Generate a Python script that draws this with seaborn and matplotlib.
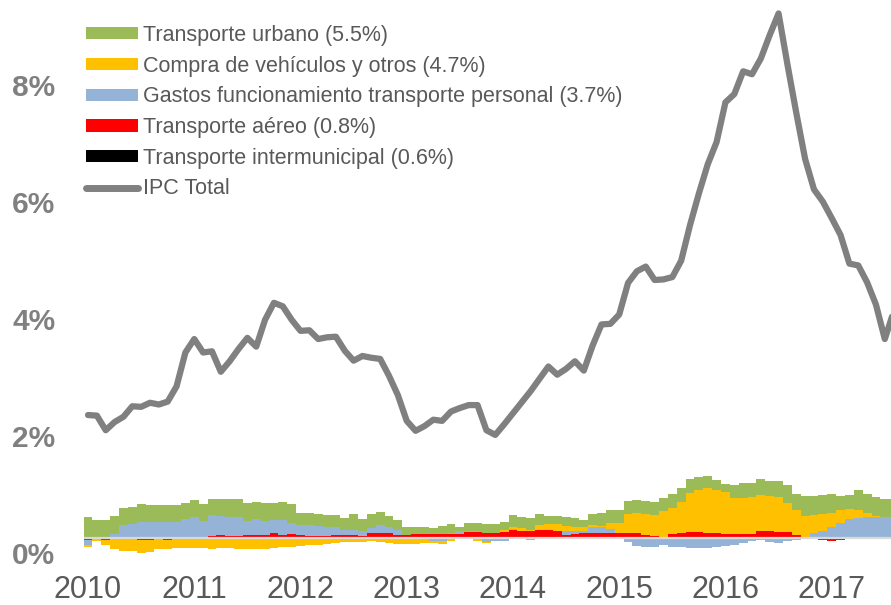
import numpy as np
import pandas as pd
import matplotlib
matplotlib.use("Agg")
import matplotlib.pyplot as plt
import matplotlib.transforms as mtransforms
from matplotlib.patches import Patch
from matplotlib.lines import Line2D
import seaborn as sns

# Monthly data, Jan 2010 - Aug 2017 (contributions in percentage points)
years = ["2010", "2011", "2012", "2013", "2014", "2015", "2016", "2017"]

ipc_total = [2.10, 2.09, 1.84, 1.98, 2.07, 2.25, 2.24, 2.31, 2.28, 2.33, 2.59, 3.17,
             3.40, 3.17, 3.19, 2.84, 3.02, 3.23, 3.42, 3.27, 3.73, 4.02, 3.96, 3.73,
             3.54, 3.55, 3.40, 3.43, 3.44, 3.20, 3.03, 3.11, 3.08, 3.06, 2.77, 2.44,
             2.00, 1.83, 1.91, 2.02, 2.00, 2.16, 2.22, 2.27, 2.27, 1.84, 1.76, 1.94,
             2.13, 2.32, 2.51, 2.72, 2.93, 2.79, 2.89, 3.02, 2.86, 3.29, 3.65, 3.66,
             3.82, 4.36, 4.56, 4.64, 4.41, 4.42, 4.46, 4.74, 5.35, 5.89, 6.39, 6.77,
             7.45, 7.59, 7.98, 7.93, 8.20, 8.60, 8.97, 8.10, 7.27, 6.48, 5.96, 5.75,
             5.47, 5.18, 4.69, 4.66, 4.37, 3.99, 3.40, 3.87]

transporte_intermunicipal = [0.0] * 89 + [0.02, 0.02, 0.02]

transporte_aereo = [-0.03, 0.00, -0.03, -0.01, 0.00, 0.00, -0.03, -0.03, -0.01, -0.03,
                    0.00, -0.02, 0.00, 0.00, 0.03, 0.05, 0.03, 0.03, 0.05, 0.05,
                    0.05, 0.09, 0.05, 0.07, 0.05, 0.03, 0.03, 0.03, 0.05, 0.05,
                    0.05, 0.03, 0.08, 0.08, 0.09, 0.05, 0.05, 0.07, 0.07, 0.06,
                    0.06, 0.07, 0.07, 0.10, 0.10, 0.09, 0.09, 0.10, 0.13, 0.12,
                    0.11, 0.14, 0.13, 0.11, 0.05, 0.06, 0.08, 0.09, 0.08, 0.08,
                    0.09, 0.09, 0.09, 0.05, 0.03, 0.02, 0.07, 0.09, 0.10, 0.10,
                    0.09, 0.09, 0.07, 0.06, 0.06, 0.07, 0.11, 0.11, 0.10, 0.10,
                    0.05, 0.02, 0.00, -0.04, -0.05, -0.04, -0.02, -0.02, -0.01, 0.00,
                    0.00, 0.00]

gastos_funcionamiento = [-0.09, 0.00, 0.00, 0.07, 0.22, 0.23, 0.27, 0.27, 0.27, 0.27,
                         0.27, 0.32, 0.35, 0.29, 0.36, 0.33, 0.32, 0.32, 0.23, 0.27,
                         0.24, 0.21, 0.25, 0.18, 0.17, 0.19, 0.17, 0.16, 0.13, 0.09,
                         0.09, 0.08, 0.09, 0.14, 0.09, 0.08, 0.00, 0.00, 0.00, -0.05,
                         -0.06, 0.02, 0.04, 0.02, 0.01, -0.07, -0.06, -0.05, 0.02, 0.00,
                         -0.03, -0.02, 0.00, 0.00, 0.06, 0.06, 0.04, 0.10, 0.10, 0.07,
                         0.00, -0.07, -0.14, -0.16, -0.16, -0.12, -0.15, -0.15, -0.17, -0.18,
                         -0.18, -0.16, -0.14, -0.12, -0.09, -0.06, -0.03, -0.07, -0.09, -0.06,
                         -0.03, 0.00, 0.08, 0.12, 0.19, 0.25, 0.32, 0.34, 0.35, 0.33,
                         0.33, 0.34]

compra_vehiculos = [-0.03, -0.06, -0.10, -0.18, -0.22, -0.22, -0.23, -0.21, -0.19, -0.16,
                    -0.18, -0.16, -0.17, -0.17, -0.19, -0.18, -0.18, -0.19, -0.20, -0.19,
                    -0.19, -0.18, -0.16, -0.15, -0.14, -0.13, -0.12, -0.10, -0.09, -0.08,
                    -0.07, -0.07, -0.05, -0.07, -0.09, -0.10, -0.11, -0.11, -0.09, -0.04,
                    -0.05, -0.06, -0.02, -0.02, -0.05, -0.02, 0.00, 0.03, 0.03, 0.04,
                    0.02, 0.08, 0.11, 0.12, 0.10, 0.07, 0.06, 0.03, 0.02, 0.11,
                    0.16, 0.31, 0.33, 0.35, 0.36, 0.43, 0.44, 0.53, 0.66, 0.71,
                    0.77, 0.72, 0.72, 0.62, 0.62, 0.62, 0.63, 0.60, 0.60, 0.49,
                    0.42, 0.36, 0.31, 0.28, 0.24, 0.22, 0.18, 0.14, 0.08, 0.03,
                    0.01, -0.02]

transporte_urbano = [0.36, 0.31, 0.30, 0.31, 0.29, 0.29, 0.31, 0.29, 0.29, 0.29,
                     0.29, 0.28, 0.29, 0.29, 0.28, 0.29, 0.32, 0.32, 0.31, 0.30,
                     0.30, 0.30, 0.31, 0.33, 0.21, 0.20, 0.20, 0.20, 0.21, 0.20,
                     0.26, 0.21, 0.23, 0.22, 0.20, 0.17, 0.13, 0.12, 0.12, 0.11,
                     0.15, 0.14, 0.08, 0.14, 0.14, 0.15, 0.14, 0.14, 0.21, 0.19,
                     0.21, 0.19, 0.14, 0.15, 0.14, 0.14, 0.13, 0.19, 0.23, 0.21,
                     0.23, 0.23, 0.23, 0.23, 0.23, 0.23, 0.24, 0.23, 0.24, 0.23,
                     0.19, 0.18, 0.13, 0.23, 0.25, 0.24, 0.26, 0.26, 0.27, 0.32,
                     0.28, 0.34, 0.32, 0.33, 0.32, 0.24, 0.24, 0.33, 0.32, 0.31,
                     0.30, 0.30]

# stacking order bottom -> top, (label, values, colour)
series = [
    ("Transporte intermunicipal (0.6%)", transporte_intermunicipal, "#000000"),
    ("Transporte aéreo (0.8%)", transporte_aereo, "#FF0000"),
    ("Gastos funcionamiento transporte personal (3.7%)", gastos_funcionamiento, "#95B3D7"),
    ("Compra de vehículos y otros (4.7%)", compra_vehiculos, "#FFC000"),
    ("Transporte urbano (5.5%)", transporte_urbano, "#9BBB59"),
]

df = pd.DataFrame({"mes": np.arange(len(ipc_total)), "ipc": ipc_total})

sns.set_style("white")
plt.rcParams["font.family"] = ["Liberation Sans", "DejaVu Sans"]

fig = plt.figure(figsize=(8.91, 6.05), dpi=100)
ax = fig.add_axes([65 / 891, 45 / 605, 826 / 891, 560 / 605])

# stacked bars, positives up and negatives down
pos_bottom = np.zeros(len(df))
neg_bottom = np.zeros(len(df))
for label, vals, color in series:
    v = np.array(vals)
    bottom = np.where(v >= 0, pos_bottom, neg_bottom)
    ax.bar(df["mes"], v, bottom=bottom, width=1.0, color=color,
           edgecolor="none", linewidth=0, zorder=2)
    pos_bottom += np.clip(v, 0, None)
    neg_bottom += np.clip(v, None, 0)

ax.hlines(0, -0.5, len(df) - 0.5, color="#D9D9D9", lw=1.6, zorder=3)

sns.lineplot(data=df, x="mes", y="ipc", color="#808080", lw=4.5,
             ax=ax, zorder=4, legend=False)
ax.lines[-1].set_solid_joinstyle("round")

ax.set_xlim(-2.6, 90.7)
ax.set_ylim(-0.38, 9.2)
ax.set_xlabel("")
ax.set_ylabel("")

ax.set_xticks(np.arange(0, 96, 12))
ax.set_xticklabels(years, fontsize=22, color="#595959")
ax.set_yticks([0, 2, 4, 6, 8])
ax.set_yticklabels(["0%", "2%", "4%", "6%", "8%"], fontsize=21.5,
                   fontweight="bold", color="#808080")
ax.tick_params(axis="x", length=0, pad=11)
ax.tick_params(axis="y", length=0, pad=7)

# y labels sit a bit below their gridline positions in the original
offset = mtransforms.ScaledTranslation(0, -0.15, fig.dpi_scale_trans)
for tick in ax.yaxis.get_major_ticks():
    tick.label1.set_transform(tick.label1.get_transform() + offset)

for s in ax.spines.values():
    s.set_visible(False)

handles = [Patch(facecolor=c, edgecolor="none") for _, _, c in series[::-1]]
labels = [l for l, _, _ in series[::-1]]
handles.append(Line2D([0], [0], color="#808080", lw=5, solid_capstyle="round"))
labels.append("IPC Total")

leg = ax.legend(handles, labels, loc="upper left",
                bbox_to_anchor=(86 / 891, 1 - 25 / 605), bbox_transform=fig.transFigure,
                frameon=False, fontsize=15.5, borderpad=0, borderaxespad=0,
                handlelength=2.42, handleheight=0.5, handletextpad=0.25,
                labelspacing=0.45)
for t in leg.get_texts():
    t.set_color("#595959")

fig.savefig("out.png", dpi=100)
